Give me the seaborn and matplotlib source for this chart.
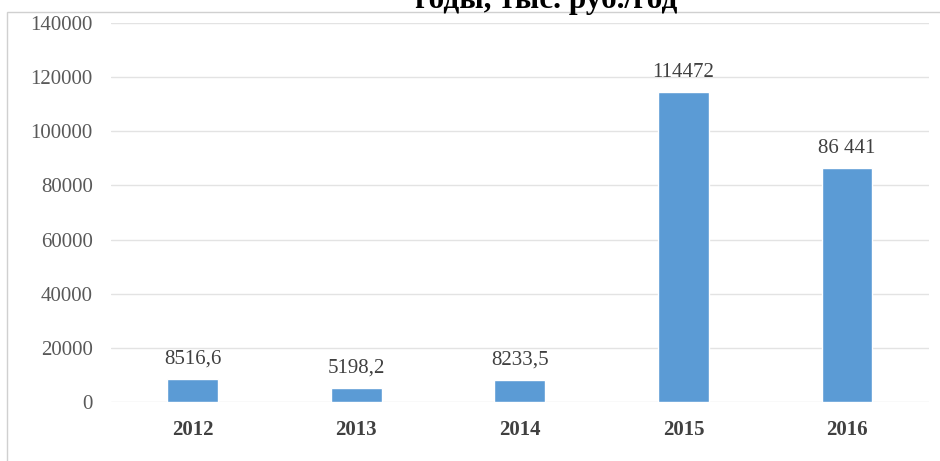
import matplotlib
matplotlib.use('Agg')
import matplotlib.pyplot as plt
import seaborn as sns
import pandas as pd
from matplotlib.patches import Rectangle

# данные с графика
years = ['2012', '2013', '2014', '2015', '2016']
values = [8516.6, 5198.2, 8233.5, 114472, 86441]
value_labels = ['8516,6', '5198,2', '8233,5', '114472', '86 441']
y_ticks = [0, 20000, 40000, 60000, 80000, 100000, 120000, 140000]

sns.set_theme(style='white')
plt.rcParams['font.family'] = ['Liberation Serif', 'DejaVu Serif']

df = pd.DataFrame({'год': years, 'значение': values})

fig = plt.figure(figsize=(9.4, 4.61), dpi=100)
ax = fig.add_axes([0.118, 0.128, 0.870, 0.822])

sns.barplot(data=df, x='год', y='значение', color='#5B9BD5', width=0.31,
            saturation=1, ax=ax, zorder=3)

ax.set_ylim(0, 140000)
ax.set_yticks(y_ticks)
ax.set_yticklabels([str(t) for t in y_ticks], color='#595959', fontsize=15)
ax.set_xticks(range(len(years)))
ax.set_xticklabels(years, fontweight='bold', color='#404040', fontsize=15)
ax.tick_params(axis='x', length=0, pad=13)
ax.tick_params(axis='y', length=0, pad=13)
ax.grid(axis='y', color='#E3E3E3', linewidth=1, zorder=0)
ax.set_xlabel('')
ax.set_ylabel('')
for s in ax.spines.values():
    s.set_visible(False)

for i, (v, lab) in enumerate(zip(values, value_labels)):
    ax.text(i, v + 3800, lab, ha='center', va='bottom', color='#404040', fontsize=15)

# рамка области диаграммы
fig.patches.append(Rectangle((7 / 940, -0.05), 1.0, 1 - 12 / 461 + 0.05,
                             transform=fig.transFigure, fill=False,
                             edgecolor='#D0D0D0', linewidth=1))

fig.text(546 / 940, 1 - 8 / 461, 'годы, тыс. руб./год', ha='center', va='baseline',
         fontsize=22.5, fontweight='bold', color='black')

fig.savefig('out.png', dpi=100)
